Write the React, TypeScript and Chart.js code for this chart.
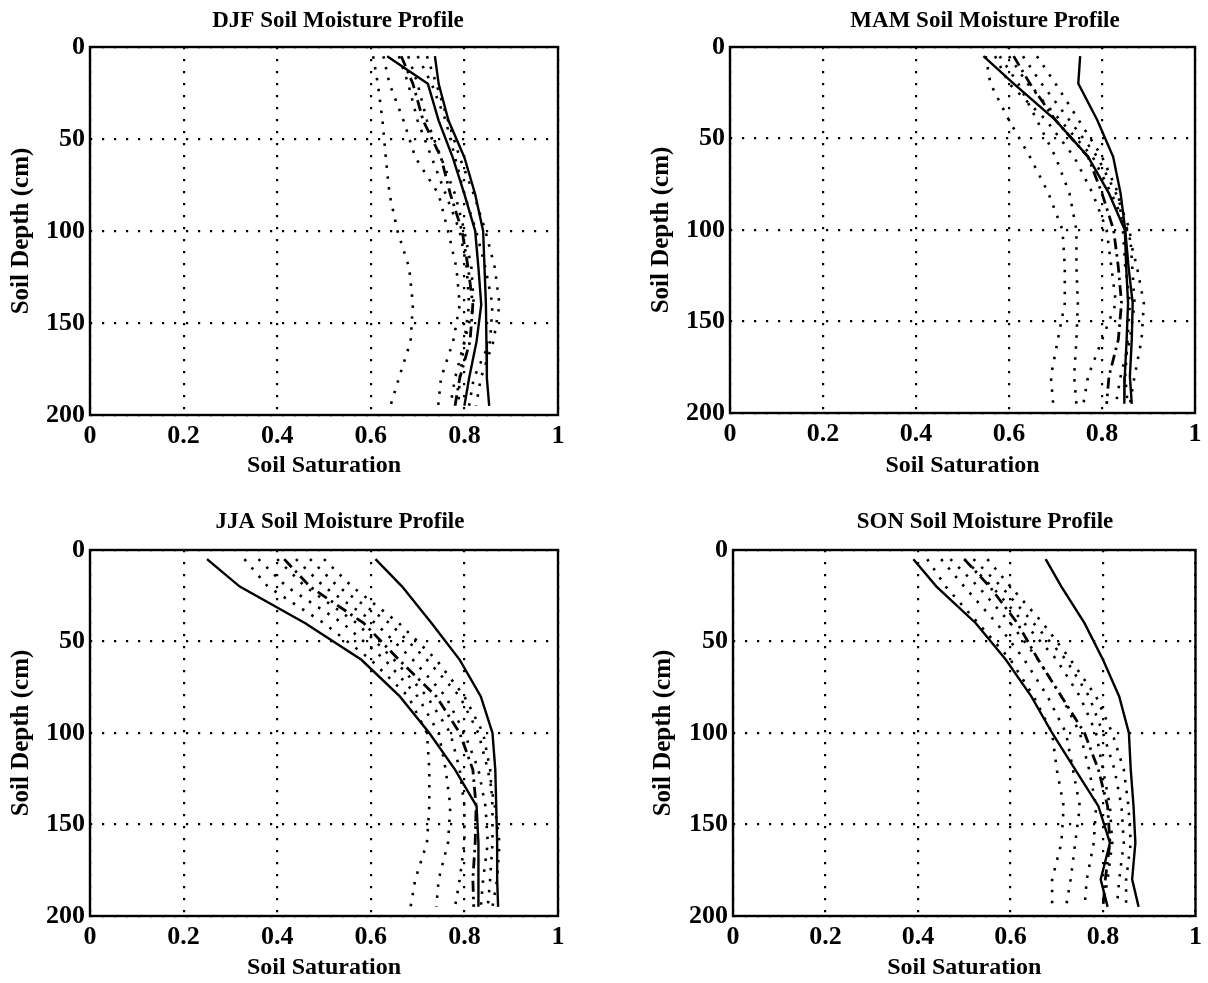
import React, { useEffect, useRef } from 'react';
import { Chart, registerables } from 'chart.js';

Chart.register(...registerables);

const FONT = "'Liberation Serif', 'Times New Roman', Times, serif";

// ---------- data ----------
const depthLevels = [5, 20, 40, 60, 80, 100, 120, 140, 160, 180, 195];
const xTickLabels = ['0', '0.2', '0.4', '0.6', '0.8', '1'];
const yTickLabels = ['0', '50', '100', '150', '200'];
const xAxisTitle = 'Soil Saturation';
const yAxisTitle = 'Soil Depth (cm)';
const panelTitles = [
  'DJF Soil Moisture Profile',
  'MAM Soil Moisture Profile',
  'JJA Soil Moisture Profile',
  'SON Soil Moisture Profile',
];

// DJF
const djfSolidA = [0.737, 0.745, 0.766, 0.8, 0.823, 0.84, 0.843, 0.846, 0.847, 0.848, 0.853];
const djfSolidB = [0.635, 0.722, 0.745, 0.775, 0.8, 0.823, 0.83, 0.836, 0.826, 0.81, 0.8];
const djfDashed = [0.665, 0.69, 0.712, 0.75, 0.77, 0.795, 0.808, 0.818, 0.812, 0.79, 0.78];
const djfDotted1 = [0.605, 0.615, 0.625, 0.632, 0.64, 0.657, 0.682, 0.69, 0.685, 0.66, 0.642];
const djfDotted2 = [0.627, 0.64, 0.67, 0.695, 0.745, 0.765, 0.783, 0.79, 0.776, 0.75, 0.744];
const djfDotted3 = [0.68, 0.7, 0.72, 0.75, 0.78, 0.8, 0.815, 0.82, 0.8, 0.79, 0.787];
const djfDotted4 = [0.7, 0.73, 0.76, 0.78, 0.8, 0.825, 0.845, 0.86, 0.855, 0.82, 0.81];
const djfDotted5 = [0.72, 0.74, 0.765, 0.79, 0.82, 0.845, 0.865, 0.875, 0.862, 0.835, 0.825];
const djfDotted6 = [0.66, 0.68, 0.7, 0.73, 0.76, 0.79, 0.805, 0.81, 0.8, 0.78, 0.77];

// MAM
const mamSolidA = [0.753, 0.749, 0.79, 0.824, 0.84, 0.85, 0.857, 0.866, 0.864, 0.86, 0.864];
const mamSolidB = [0.545, 0.61, 0.7, 0.77, 0.815, 0.849, 0.852, 0.856, 0.853, 0.849, 0.848];
const mamDashed = [0.61, 0.645, 0.7, 0.77, 0.8, 0.825, 0.835, 0.842, 0.835, 0.815, 0.81];
const mamDotted1 = [0.55, 0.56, 0.6, 0.645, 0.685, 0.715, 0.72, 0.72, 0.705, 0.69, 0.695];
const mamDotted2 = [0.58, 0.62, 0.66, 0.7, 0.73, 0.745, 0.745, 0.748, 0.745, 0.74, 0.745];
const mamDotted3 = [0.6, 0.64, 0.71, 0.78, 0.82, 0.855, 0.875, 0.89, 0.885, 0.87, 0.86];
const mamDotted4 = [0.63, 0.67, 0.73, 0.79, 0.83, 0.86, 0.865, 0.87, 0.86, 0.84, 0.83];
const mamDotted5 = [0.66, 0.7, 0.75, 0.8, 0.835, 0.845, 0.85, 0.86, 0.855, 0.85, 0.855];
const mamDotted6 = [0.57, 0.6, 0.68, 0.74, 0.78, 0.81, 0.82, 0.83, 0.8, 0.77, 0.76];

// JJA
const jjaSolidA = [0.61, 0.667, 0.73, 0.79, 0.835, 0.86, 0.866, 0.868, 0.87, 0.87, 0.872];
const jjaSolidB = [0.25, 0.32, 0.46, 0.58, 0.662, 0.725, 0.78, 0.826, 0.83, 0.83, 0.83];
const jjaDashed = [0.415, 0.47, 0.585, 0.66, 0.74, 0.79, 0.818, 0.825, 0.823, 0.818, 0.82];
const jjaDotted1 = [0.33, 0.38, 0.5, 0.6, 0.68, 0.72, 0.725, 0.725, 0.72, 0.695, 0.685];
const jjaDotted2 = [0.36, 0.42, 0.54, 0.63, 0.7, 0.745, 0.76, 0.77, 0.765, 0.745, 0.74];
const jjaDotted3 = [0.4, 0.46, 0.57, 0.65, 0.72, 0.77, 0.79, 0.8, 0.8, 0.79, 0.78];
const jjaDotted4 = [0.44, 0.5, 0.61, 0.69, 0.76, 0.8, 0.83, 0.845, 0.85, 0.84, 0.835];
const jjaDotted5 = [0.47, 0.53, 0.64, 0.72, 0.79, 0.83, 0.85, 0.865, 0.875, 0.87, 0.86];
const jjaDotted6 = [0.5, 0.56, 0.66, 0.74, 0.8, 0.84, 0.855, 0.86, 0.86, 0.855, 0.85];

// SON
const sonSolidA = [0.676, 0.71, 0.76, 0.8, 0.835, 0.856, 0.86, 0.866, 0.87, 0.863, 0.877];
const sonSolidB = [0.39, 0.44, 0.525, 0.59, 0.645, 0.69, 0.74, 0.79, 0.815, 0.795, 0.81];
const sonDashed = [0.5, 0.555, 0.615, 0.66, 0.71, 0.76, 0.79, 0.81, 0.815, 0.805, 0.8];
const sonDotted1 = [0.42, 0.46, 0.53, 0.6, 0.65, 0.69, 0.7, 0.715, 0.71, 0.69, 0.69];
const sonDotted2 = [0.45, 0.5, 0.57, 0.63, 0.68, 0.72, 0.735, 0.75, 0.74, 0.73, 0.72];
const sonDotted3 = [0.47, 0.53, 0.6, 0.66, 0.71, 0.75, 0.77, 0.785, 0.78, 0.765, 0.76];
const sonDotted4 = [0.5, 0.56, 0.63, 0.7, 0.75, 0.785, 0.8, 0.815, 0.82, 0.81, 0.8];
const sonDotted5 = [0.52, 0.58, 0.65, 0.72, 0.77, 0.8, 0.825, 0.84, 0.845, 0.835, 0.83];
const sonDotted6 = [0.55, 0.6, 0.67, 0.73, 0.785, 0.82, 0.845, 0.855, 0.86, 0.85, 0.85];

const seasonSeries = [
  { solid: [djfSolidA, djfSolidB], dashed: djfDashed, dotted: [djfDotted1, djfDotted2, djfDotted3, djfDotted4, djfDotted5, djfDotted6] },
  { solid: [mamSolidA, mamSolidB], dashed: mamDashed, dotted: [mamDotted1, mamDotted2, mamDotted3, mamDotted4, mamDotted5, mamDotted6] },
  { solid: [jjaSolidA, jjaSolidB], dashed: jjaDashed, dotted: [jjaDotted1, jjaDotted2, jjaDotted3, jjaDotted4, jjaDotted5, jjaDotted6] },
  { solid: [sonSolidA, sonSolidB], dashed: sonDashed, dotted: [sonDotted1, sonDotted2, sonDotted3, sonDotted4, sonDotted5, sonDotted6] },
];

// ---------- layout (pixels) ----------
const layouts = [
  { left: 0, top: 0, w: 604, h: 491, axisW: 90, axisH: 76, padR: 46, padT: 47, titleX: 338, titleY: 21, yTitlePad: 9, xTitlePad: 13 },
  { left: 604, top: 0, w: 604, h: 491, axisW: 126, axisH: 78, padR: 13, padT: 47, titleX: 381, titleY: 21, yTitlePad: 45, xTitlePad: 13 },
  { left: 0, top: 491, w: 604, h: 492, axisW: 90, axisH: 67, padR: 46, padT: 59, titleX: 340, titleY: 31, yTitlePad: 9, xTitlePad: 3 },
  { left: 604, top: 491, w: 604, h: 492, axisW: 129, axisH: 67, padR: 11, padT: 59, titleX: 381, titleY: 31, yTitlePad: 47, xTitlePad: 3 },
];

const framePlugin = {
  id: 'frameBox',
  afterDraw(chart: any) {
    const { ctx, chartArea: a } = chart;
    ctx.save();
    ctx.strokeStyle = '#000';
    ctx.lineWidth = 2.4;
    ctx.setLineDash([]);
    ctx.strokeRect(a.left, a.top, a.right - a.left, a.bottom - a.top);
    ctx.restore();
  },
};

const panelTitlePlugin = {
  id: 'panelTitle',
  afterDraw(chart: any, _args: any, opts: any) {
    const { ctx } = chart;
    ctx.save();
    ctx.font = `bold ${opts.size}px ${FONT}`;
    ctx.fillStyle = '#000';
    ctx.textAlign = 'center';
    ctx.textBaseline = 'middle';
    ctx.fillText(opts.text, opts.x, opts.y);
    ctx.restore();
  },
};

function toPoints(vals: number[]) {
  return vals.map((v, i) => ({ x: v, y: depthLevels[i] }));
}

function Panel({ idx }: { idx: number }) {
  const ref = useRef<HTMLCanvasElement | null>(null);
  const L = layouts[idx];
  useEffect(() => {
    if (!ref.current) return;
    const s = seasonSeries[idx];
    const datasets: any[] = [];
    s.dotted.forEach((d, i) =>
      datasets.push({
        label: 'dotted' + i,
        data: toPoints(d),
        borderColor: '#000',
        borderWidth: 2.6,
        borderDash: [2.5, 8.5],
        pointRadius: 0,
        showLine: true,
        fill: false,
        tension: 0,
      })
    );
    datasets.push({
      label: 'dashed',
      data: toPoints(s.dashed),
      borderColor: '#000',
      borderWidth: 2.8,
      borderDash: [11, 5, 2.5, 5],
      pointRadius: 0,
      showLine: true,
      fill: false,
      tension: 0,
    });
    s.solid.forEach((d, i) =>
      datasets.push({
        label: 'solid' + i,
        data: toPoints(d),
        borderColor: '#000',
        borderWidth: 2.4,
        pointRadius: 0,
        showLine: true,
        fill: false,
        tension: 0,
      })
    );
    const chart = new Chart(ref.current, {
      type: 'scatter',
      data: { datasets },
      plugins: [framePlugin, panelTitlePlugin],
      options: {
        responsive: false,
        animation: false,
        events: [],
        layout: { padding: { left: 0, right: L.padR, top: L.padT, bottom: 0 } },
        plugins: {
          legend: { display: false },
          tooltip: { enabled: false },
          title: { display: false },
          panelTitle: { text: panelTitles[idx], x: L.titleX, y: L.titleY, size: 23 },
        },
        scales: {
          x: {
            type: 'linear',
            min: 0,
            max: 1,
            afterFit: (sc: any) => { sc.height = L.axisH; },
            ticks: {
              stepSize: 0.2,
              color: '#000',
              padding: 6,
              maxRotation: 0,
              font: { family: FONT, size: 26, weight: 'bold' },
              callback: (v: any) => xTickLabels[Math.round(Number(v) / 0.2)] ?? '',
            },
            grid: {
              color: '#000',
              lineWidth: 2.2,
              drawTicks: false,
            },
            border: { display: false, dash: [2.2, 9.8] },
            title: {
              display: true,
              text: xAxisTitle,
              color: '#000',
              font: { family: FONT, size: 24, weight: 'bold', lineHeight: 1 },
              padding: { top: 0, bottom: L.xTitlePad },
            },
          },
          y: {
            type: 'linear',
            min: 0,
            max: 200,
            reverse: true,
            afterFit: (sc: any) => { sc.width = L.axisW; },
            ticks: {
              stepSize: 50,
              color: '#000',
              padding: 5,
              font: { family: FONT, size: 26, weight: 'bold' },
              callback: (v: any) => yTickLabels[Math.round(Number(v) / 50)] ?? '',
            },
            grid: {
              color: '#000',
              lineWidth: 2.2,
              drawTicks: false,
            },
            border: { display: false, dash: [2.2, 9.8] },
            title: {
              display: true,
              text: yAxisTitle,
              color: '#000',
              font: { family: FONT, size: 25, weight: 'bold', lineHeight: 1 },
              padding: { top: L.yTitlePad, bottom: 0 },
            },
          },
        },
      } as any,
    });
    return () => chart.destroy();
  }, [idx]);
  return (
    <canvas
      ref={ref}
      width={L.w}
      height={L.h}
      style={{ position: 'absolute', left: L.left, top: L.top, width: L.w, height: L.h }}
    />
  );
}

export default function App() {
  return (
    <div style={{ position: 'absolute', left: 0, top: 0, width: 1208, height: 983, background: '#fff' }}>
      {[0, 1, 2, 3].map((i) => (
        <Panel key={i} idx={i} />
      ))}
    </div>
  );
}
